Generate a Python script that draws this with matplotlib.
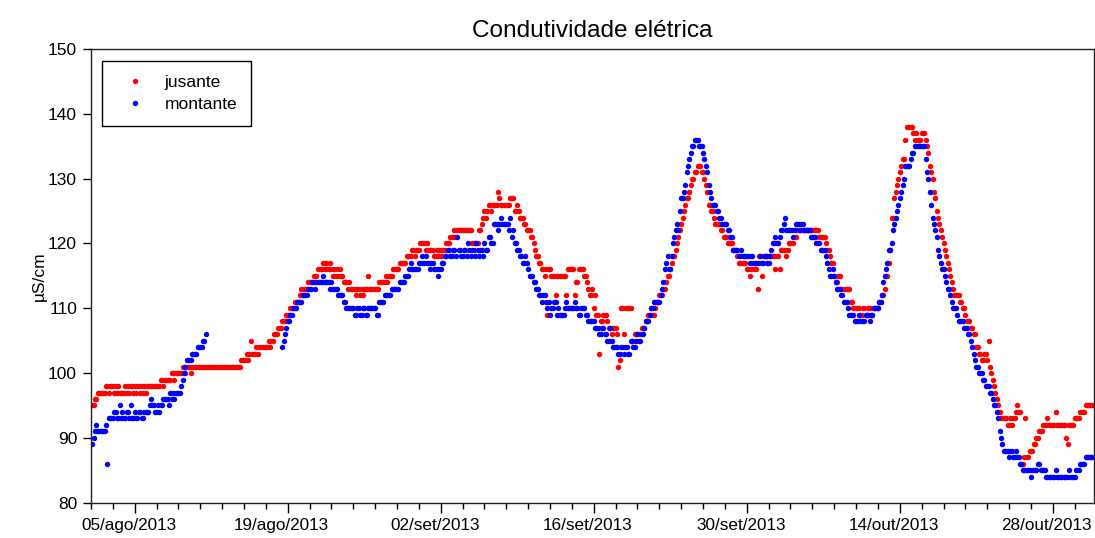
import numpy as np
import pandas as pd
import matplotlib
matplotlib.use('Agg')
import matplotlib.pyplot as plt
import matplotlib.dates as mdates
from matplotlib.ticker import FuncFormatter, MultipleLocator, FixedLocator
from matplotlib.transforms import ScaledTranslation
from datetime import datetime

plt.rcParams['font.family'] = ['Liberation Sans', 'DejaVu Sans']

# Conductivity readings (uS/cm), one every 3 h starting 01/08/2013 (2 days per row)
jusante = [
    95, 95, 95, 96, 96, 97, 97, 97, 97, 97, 97, 98, 98, 97, 98, 98,
    98, 97, 98, 97, 98, 97, 97, 97, 97, 98, 97, 98, 97, 98, 98, 97,
    98, 97, 98, 98, 97, 98, 97, 98, 97, 98, 98, 98, 98, 98, 98, 98,
    98, 98, 98, 99, 99, 98, 99, 99, 99, 99, 99, 100, 100, 99, 100, 100,
    100, 100, 100, 101, 101, 100, 101, 101, 101, 100, 101, 101, 101, 101, 101, 101,
    101, 101, 101, 101, 101, 101, 101, 101, 101, 101, 101, 101, 101, 101, 101, 101,
    101, 101, 101, 101, 101, 101, 101, 101, 101, 101, 101, 101, 101, 101, 102, 102,
    102, 102, 103, 102, 103, 105, 103, 103, 103, 104, 103, 104, 104, 104, 104, 104,
    104, 104, 105, 104, 105, 105, 106, 106, 106, 107, 107, 107, 108, 108, 108, 109,
    109, 109, 110, 110, 110, 111, 111, 111, 111, 112, 113, 112, 113, 113, 113, 114,
    114, 114, 114, 115, 115, 115, 116, 116, 116, 116, 117, 116, 117, 116, 116, 117,
    116, 115, 116, 115, 116, 115, 116, 115, 115, 114, 114, 114, 113, 114, 113, 113,
    113, 113, 112, 113, 113, 112, 113, 112, 113, 113, 113, 115, 113, 113, 113, 113,
    113, 113, 113, 114, 114, 114, 114, 114, 115, 114, 115, 115, 115, 116, 116, 116,
    116, 116, 117, 117, 117, 117, 117, 118, 118, 118, 118, 119, 119, 118, 119, 119,
    119, 120, 120, 120, 120, 119, 120, 119, 119, 119, 119, 118, 118, 119, 118, 119,
    118, 119, 119, 119, 120, 120, 120, 121, 121, 121, 122, 121, 122, 122, 122, 122,
    122, 122, 122, 122, 122, 122, 122, 120, 120, 120, 120, 120, 122, 122, 123, 124,
    125, 124, 125, 126, 126, 125, 126, 126, 126, 126, 128, 127, 126, 126, 126, 126,
    126, 126, 126, 127, 127, 127, 125, 125, 126, 125, 124, 124, 124, 123, 123, 122,
    122, 122, 121, 121, 120, 119, 118, 118, 117, 117, 116, 116, 115, 116, 109, 116,
    116, 115, 115, 115, 112, 115, 115, 115, 115, 115, 115, 115, 112, 116, 116, 116,
    116, 116, 112, 114, 114, 116, 116, 116, 116, 115, 115, 114, 113, 112, 112, 113,
    110, 112, 109, 109, 103, 108, 108, 109, 109, 109, 108, 107, 107, 106, 107, 107,
    107, 106, 101, 102, 110, 110, 106, 110, 110, 110, 110, 110, 105, 105, 106, 106,
    106, 106, 106, 107, 107, 107, 108, 108, 109, 109, 110, 109, 109, 110, 111, 111,
    112, 112, 112, 113, 113, 114, 115, 115, 116, 117, 118, 118, 119, 120, 121, 122,
    123, 124, 125, 126, 127, 127, 128, 129, 130, 130, 131, 131, 132, 132, 132, 131,
    131, 130, 129, 128, 126, 126, 125, 125, 124, 123, 123, 123, 123, 122, 122, 121,
    121, 121, 120, 120, 120, 120, 119, 119, 119, 118, 117, 117, 117, 117, 117, 117,
    116, 116, 115, 116, 117, 116, 116, 116, 113, 118, 118, 115, 118, 118, 118, 118,
    118, 118, 118, 118, 118, 116, 118, 118, 116, 119, 119, 119, 119, 118, 119, 120,
    120, 120, 120, 121, 121, 122, 122, 122, 122, 122, 122, 122, 122, 122, 122, 122,
    122, 122, 122, 122, 122, 121, 121, 121, 121, 121, 120, 119, 119, 118, 117, 117,
    115, 114, 114, 115, 115, 113, 113, 113, 113, 113, 113, 113, 111, 111, 110, 110,
    110, 110, 110, 109, 109, 110, 110, 109, 109, 110, 110, 109, 109, 110, 110, 110,
    110, 111, 111, 112, 112, 113, 115, 115, 117, 119, 124, 124, 127, 128, 129, 130,
    131, 132, 133, 133, 136, 138, 138, 138, 138, 138, 137, 136, 137, 136, 136, 136,
    137, 137, 137, 136, 135, 134, 132, 131, 130, 128, 127, 125, 124, 123, 122, 121,
    120, 119, 118, 117, 116, 115, 114, 113, 112, 112, 112, 112, 111, 111, 110, 110,
    109, 108, 108, 108, 107, 107, 106, 106, 104, 104, 103, 103, 102, 102, 103, 103,
    102, 105, 101, 100, 99, 98, 97, 96, 95, 94, 93, 93, 93, 93, 93, 92,
    92, 93, 92, 93, 93, 94, 95, 94, 94, 86, 86, 87, 93, 87, 87, 88,
    88, 88, 89, 89, 90, 90, 91, 91, 91, 92, 92, 92, 93, 92, 92, 92,
    92, 92, 94, 92, 92, 92, 92, 92, 92, 92, 90, 89, 92, 92, 92, 92,
    93, 93, 93, 93, 94, 94, 94, 94, 95, 95, 95, 95, 95, 95, 95, 95,
]

# None = probe offline
montante = [
    89, 89, 90, 91, 92, 91, 91, 91, 91, 91, 91, 92, 86, 93, 93, 93,
    93, 94, 94, 93, 93, 95, 93, 94, 93, 93, 94, 94, 93, 95, 93, 93,
    94, 93, 93, 94, 94, 93, 93, 94, 94, 94, 94, 95, 96, 95, 95, 94,
    94, 95, 94, 95, 95, 96, 96, 96, 96, 95, 97, 96, 97, 96, 97, 97,
    97, 97, 98, 99, 100, 101, 102, 102, 102, 102, 103, 103, 103, 103, 104, 104,
    104, 104, 105, 105, 106, None, None, None, None, None, None, None, None, None, None, None,
    None, None, None, None, None, None, None, None, None, None, None, None, None, None, None, None,
    None, None, None, None, None, None, None, None, None, None, None, None, None, None, None, None,
    None, None, None, None, None, None, None, None, None, None, None, None, 104, 105, 106, 107,
    108, 108, 109, 109, 110, 110, 110, 111, 111, 111, 111, 112, 112, 112, 112, 113,
    113, 113, 114, 114, 113, 114, 114, 114, 114, 114, 115, 114, 114, 114, 114, 113,
    114, 113, 113, 113, 113, 112, 112, 112, 112, 111, 111, 110, 110, 110, 110, 110,
    110, 109, 109, 110, 110, 109, 109, 110, 110, 109, 109, 110, 110, 110, 110, 110,
    110, 109, 109, 111, 111, 111, 111, 112, 112, 112, 112, 112, 113, 113, 113, 113,
    113, 113, 114, 114, 114, 114, 115, 115, 115, 116, 117, 116, 116, 116, 116, 116,
    117, 117, 118, 117, 117, 118, 117, 117, 116, 117, 117, 116, 116, 116, 115, 116,
    116, 117, 117, 118, 118, 119, 119, 118, 118, 119, 119, 118, 121, 119, 119, 118,
    118, 119, 119, 118, 120, 119, 118, 119, 119, 118, 120, 119, 118, 119, 119, 118,
    120, 119, 119, 121, 121, 120, 120, 123, 123, 123, 122, 123, 124, 123, 123, 123,
    123, 123, 122, 124, 121, 122, 120, 120, 119, 119, 118, 118, 117, 117, 118, 117,
    116, 115, 115, 115, 114, 114, 113, 113, 112, 112, 111, 112, 112, 111, 110, 111,
    109, 110, 110, 111, 111, 109, 110, 109, 109, 109, 109, 110, 111, 110, 110, 110,
    110, 110, 111, 110, 110, 109, 109, 110, 110, 110, 109, 109, 108, 108, 108, 108,
    108, 107, 107, 107, 106, 106, 107, 107, 106, 106, 105, 105, 107, 105, 104, 104,
    104, 104, 103, 103, 104, 104, 103, 104, 104, 103, 103, 105, 105, 104, 104, 105,
    106, 105, 105, 106, 106, 107, 108, 108, 108, 109, 110, 110, 111, 111, 111, 111,
    111, 112, 113, 114, 116, 117, 118, 116, 116, 118, 120, 121, 122, 123, 122, 125,
    127, 127, 128, 129, 131, 132, 133, 134, 135, 135, 136, 136, 136, 135, 135, 135,
    134, 133, 132, 131, 129, 128, 127, 126, 126, 126, 125, 125, 124, 124, 123, 123,
    123, 123, 122, 122, 121, 121, 119, 119, 119, 119, 118, 118, 119, 118, 118, 118,
    118, 118, 117, 118, 118, 117, 117, 117, 117, 117, 118, 117, 117, 118, 118, 117,
    117, 118, 119, 120, 120, 121, 120, 120, 121, 122, 122, 123, 124, 122, 122, 122,
    122, 122, 121, 122, 123, 123, 123, 122, 123, 123, 122, 122, 122, 122, 122, 121,
    121, 121, 121, 120, 120, 120, 119, 119, 119, 119, 118, 117, 116, 115, 115, 116,
    115, 114, 113, 113, 113, 112, 112, 111, 111, 111, 110, 109, 109, 109, 109, 108,
    108, 108, 109, 108, 108, 108, 108, 109, 109, 109, 108, 109, 109, 110, 110, 110,
    110, 111, 111, 112, 114, 115, 116, 117, 119, 119, 120, 122, 123, 124, 125, 126,
    127, 128, 129, 130, 132, 132, 132, 132, 133, 134, 134, 135, 135, 135, 135, 135,
    135, 135, 135, 133, 131, 130, 128, 126, 124, 123, 122, 121, 119, 118, 117, 116,
    116, 115, 114, 113, 113, 112, 111, 110, 110, 110, 109, 108, 108, 108, 108, 107,
    107, 107, 106, 106, 105, 104, 103, 102, 101, 101, 100, 100, 100, 99, 99, 98,
    98, 98, 97, 97, 96, 95, 95, 94, 93, 91, 90, 89, 88, 88, 88, 88,
    87, 88, 88, 87, 87, 88, 87, 87, 86, 86, 85, 85, 85, 85, 85, 85,
    84, 85, 85, 85, 85, 86, 86, 85, 85, 85, 85, 84, 84, 84, 84, 84,
    84, 84, 85, 84, 84, 84, 84, 84, 84, 84, 84, 84, 85, 84, 84, 84,
    84, 85, 85, 85, 86, 86, 86, 86, 87, 87, 87, 87, 87, 87, 87, 87,
]

meses = ['jan', 'fev', 'mar', 'abr', 'mai', 'jun',
         'jul', 'ago', 'set', 'out', 'nov', 'dez']

tempo = pd.date_range('2013-08-01', periods=len(jusante), freq='3h')
mont = np.array([np.nan if v is None else v for v in montante], dtype=float)

fig = plt.figure(figsize=(10.95, 5.38), dpi=100)
ax = fig.add_axes([0.0831, 0.0656, 0.916, 0.8433])

ax.plot(tempo, jusante, 'o', color='red', markersize=3.9,
        markeredgewidth=0, label='jusante')
ax.plot(tempo, mont, 'o', color='blue', markersize=3.9,
        markeredgewidth=0, label='montante')

ax.set_xlim(datetime(2013, 8, 1), datetime(2013, 10, 31, 18, 30))
ax.set_ylim(80, 150)

# major ticks every 14 days from 05/ago, minor every 2 days
majors = pd.date_range('2013-08-05', '2013-10-31', freq='14D')
minors = pd.date_range('2013-08-01', '2013-10-31', freq='2D')
ax.xaxis.set_major_locator(FixedLocator(mdates.date2num(majors.to_pydatetime())))
ax.xaxis.set_minor_locator(FixedLocator(mdates.date2num(minors.to_pydatetime())))


def fmt_data(x, pos):
    d = mdates.num2date(x)
    return f'{d.day:02d}/{meses[d.month - 1]}/{d.year}'


ax.xaxis.set_major_formatter(FuncFormatter(fmt_data))
ax.yaxis.set_major_locator(MultipleLocator(10))

ax.tick_params(axis='x', which='major', length=7, width=1, labelsize=12.3, pad=4)
ax.tick_params(axis='x', which='minor', length=4, width=1)
ax.tick_params(axis='y', length=6, width=1, labelsize=12.5, pad=4)
for s in ax.spines.values():
    s.set_linewidth(1.0)
    s.set_color('#222222')

# date labels sit a little left of their ticks
shift = ScaledTranslation(-6 / 100, 0, fig.dpi_scale_trans)
for lbl in ax.get_xticklabels():
    lbl.set_transform(lbl.get_transform() + shift)

ax.set_ylabel('µS/cm', fontsize=12.5, labelpad=1)
ax.set_title('Condutividade elétrica', fontsize=17.6, pad=9)

ax.legend(loc='upper left', bbox_to_anchor=(0.011, 0.9735), borderaxespad=0,
          fontsize=12.5, frameon=True, fancybox=False, edgecolor='black',
          framealpha=1, borderpad=0.8, handlelength=2.2, handletextpad=0.6,
          labelspacing=0.4, numpoints=1).get_frame().set_linewidth(1.0)

fig.savefig('out.png', dpi=100)
